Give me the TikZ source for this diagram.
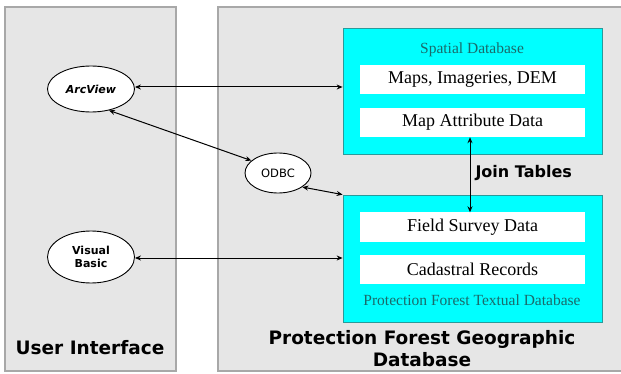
\documentclass[tikz,border=0pt]{standalone}
\usepackage{fontspec}
\setmainfont{Liberation Serif}
\newfontfamily\vsans{DejaVu Sans}
\usetikzlibrary{arrows.meta,shapes.geometric}
\definecolor{panelgray}{HTML}{E6E6E6}
\definecolor{panelline}{HTML}{A8A8A8}
\definecolor{cyanfill}{HTML}{00FFFF}
\definecolor{cyanline}{HTML}{2A9A9A}
\definecolor{tealtext}{HTML}{1A6A6A}
\begin{document}
\begin{tikzpicture}[x=1pt,y=-1pt,
  panel/.style={fill=panelgray,draw=panelline,line width=1.2pt},
  dbbox/.style={fill=cyanfill,draw=cyanline,line width=0.8pt,inner sep=0pt},
  wbox/.style={fill=white,inner sep=0pt,minimum width=225pt,minimum height=29pt,font=\fontsize{18}{20}\selectfont},
  oval/.style={ellipse,draw,line width=0.9pt,fill=white,inner sep=0pt,align=center,font=\vsans\bfseries\fontsize{11}{12.5}\selectfont},
  biarrow/.style={line width=1pt,{Stealth[length=6pt,width=5pt]}-{Stealth[length=6pt,width=5pt]}},
  bigtitle/.style={font=\vsans\bfseries\fontsize{18.5}{22}\selectfont,align=center}]
\useasboundingbox (0,0) rectangle (621,374);
\fill[white] (0,0) rectangle (621,374);
% panels
\draw[panel] (5,7) rectangle (176,371);
\draw[panel] (218,7) rectangle (623,371);
% cyan boxes
\node[dbbox,minimum width=259pt,minimum height=126pt] (spatial) at (472.5,91) {};
\node[dbbox,minimum width=259pt,minimum height=127pt] (textual) at (472.5,258.5) {};
\node[font=\fontsize{15.5}{17}\selectfont,text=tealtext] (spt) at (472,50) {Spatial Database};
\node[font=\fontsize{15.5}{17}\selectfont,text=tealtext] (txt) at (472,300) {Protection Forest Textual Database};
\node[wbox] (maps) at (472.5,79.5) {Maps, Imageries, DEM};
\node[wbox] (attr) at (472.5,122.5) {Map Attribute Data};
\node[wbox] (field) at (472.5,227) {Field Survey Data};
\node[wbox] (cad) at (472.5,269) {Cadastral Records};
% ellipses
\node[oval,minimum width=87pt,minimum height=46pt,font=\vsans\bfseries\itshape\fontsize{11}{12.5}\selectfont] (arc) at (91,89) {ArcView};
\node[oval,minimum width=87pt,minimum height=52pt] (vb) at (91,257) {Visual\\Basic};
\node[oval,minimum width=66pt,minimum height=40pt,font=\vsans\fontsize{11.5}{13}\selectfont] (odbc) at (278,173) {ODBC};
% arrows
\draw[biarrow] (arc.east |- 0,87) coordinate (a1) -- (spatial.west |- a1);
\draw[biarrow] (arc.-50) -- (odbc.155);
\draw[biarrow] (odbc.-30) -- (textual.north west);
\draw[biarrow] (vb.east |- 0,258) coordinate (v1) -- (textual.west |- v1);
\draw[biarrow] (attr.south -| 470,0) coordinate (j1) -- (field.north -| j1);
\node[font=\vsans\bfseries\fontsize{16}{18}\selectfont,anchor=west] (join) at (472,173) {Join Tables};
% titles
\node[bigtitle] (ui) at (90,348) {User Interface};
\node[bigtitle] (pfgd) at (422,349) {Protection Forest Geographic\\Database};
\end{tikzpicture}
\end{document}
